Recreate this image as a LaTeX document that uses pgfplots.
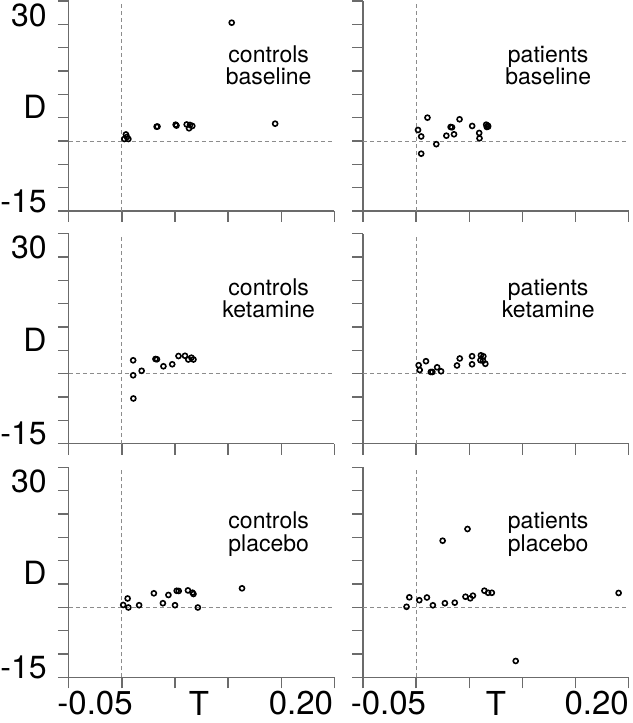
\documentclass[border=0pt]{standalone}
\usepackage{pgfplots}
\pgfplotsset{compat=1.18}
\usepackage{fontspec}
\setmainfont{TeX Gyre Heros}

\definecolor{axisgray}{gray}{0.42}
\definecolor{dashgray}{gray}{0.55}

\newcommand\ylabfont{\fontsize{32}{38}\selectfont}
\newcommand\xlabfont{\fontsize{33}{38}\selectfont}
\newcommand\panellab{\fontsize{23}{27}\selectfont}

\pgfplotsset{
  panel/.style={
    scale only axis, width=265.5pt, height=210pt,
    anchor=south west,
    xmin=-0.05, xmax=0.2, ymin=-15, ymax=30,
    axis lines*=left,
    axis line style={draw=axisgray, line width=1.3pt},
    xtick={-0.05,0,0.05,0.1,0.15,0.2},
    ytick={-15,-10,...,30},
    xticklabels={}, yticklabels={},
    tick align=outside, major tick length=11pt,
    tick style={draw=axisgray, line width=1.3pt},
    clip=false,
  },
  pts/.style={only marks, mark=o, mark size=2.5pt,
    mark options={draw=black, line width=1.6pt}},
  zero/.style={draw=dashgray, line width=0.9pt, dash pattern=on 4pt off 3pt},
}
\tikzset{
  ylab/.style={anchor=east, inner sep=0pt, xshift=-22pt, font=\ylabfont},
  xlab/.style={anchor=north, inner sep=0pt, yshift=-14pt, font=\xlabfont},
  ptxt/.style={anchor=base, inner sep=0pt, font=\panellab},
}

\begin{document}
\begin{tikzpicture}

% row 1: baseline
\begin{axis}[panel, at={(68.8pt,512pt)}]
\addplot[zero] coordinates {(-0.05,0) (0.2,0)};
\addplot[zero] coordinates {(0,-15) (0,30)};
\addplot[pts] coordinates {
(0.0038,1.4) (0.0023,0.43) (0.0061,0.43) (0.0047,0.86)
(0.0327,3.07) (0.0335,3.1) (0.0506,3.5) (0.0514,3.3)
(0.061,3.54) (0.0632,2.72) (0.0663,3.22) (0.0641,3.43)
(0.1034,25.35) (0.1443,3.71)};
\node[ptxt] at (axis cs:0.1382,16.78) {controls};
\node[ptxt] at (axis cs:0.1382,12.0) {baseline};
\node[ylab] at (axis cs:-0.05,27) {30};
\node[ylab] at (axis cs:-0.05,7.3) {D};
\node[ylab] at (axis cs:-0.05,-12.85) {-15};
\end{axis}

\begin{axis}[panel, at={(363pt,512pt)}]
\addplot[zero] coordinates {(-0.05,0) (0.2,0)};
\addplot[zero] coordinates {(0,-15) (0,30)};
\addplot[pts] coordinates {
(0.0018,2.36) (0.0048,0.97) (0.0107,5.0) (0.0048,-2.72)
(0.019,-0.68) (0.0285,1.14) (0.0325,3.0) (0.0338,2.94)
(0.0357,1.44) (0.0409,4.65) (0.0528,3.22) (0.0594,1.72)
(0.0597,0.58) (0.066,3.5) (0.0676,3.28) (0.0666,3.0) (0.0678,3.1)};
\node[ptxt] at (axis cs:0.1244,16.78) {patients};
\node[ptxt] at (axis cs:0.1244,12.0) {baseline};
\end{axis}

% row 2: ketamine
\begin{axis}[panel, at={(68.8pt,279.3pt)}]
\addplot[zero] coordinates {(-0.05,0) (0.2,0)};
\addplot[zero] coordinates {(0,-15) (0,30)};
\addplot[pts] coordinates {
(0.0106,2.87) (0.0106,-0.34) (0.0186,0.62) (0.0108,-5.31)
(0.0316,3.15) (0.033,3.09) (0.0391,1.59) (0.0474,2.02)
(0.0533,3.79) (0.0594,3.84) (0.0625,3.04) (0.0655,3.43) (0.0674,3.04)};
\node[ptxt] at (axis cs:0.1382,16.78) {controls};
\node[ptxt] at (axis cs:0.1382,12.0) {ketamine};
\node[ylab] at (axis cs:-0.05,27) {30};
\node[ylab] at (axis cs:-0.05,7.3) {D};
\node[ylab] at (axis cs:-0.05,-12.85) {-15};
\end{axis}

\begin{axis}[panel, at={(363pt,279.3pt)}]
\addplot[zero] coordinates {(-0.05,0) (0.2,0)};
\addplot[zero] coordinates {(0,-15) (0,30)};
\addplot[pts] coordinates {
(0.0024,1.82) (0.0034,0.79) (0.0093,2.68) (0.0139,0.37)
(0.0153,0.37) (0.0198,1.37) (0.0235,0.52) (0.0385,1.76)
(0.0411,3.26) (0.0527,3.75) (0.0527,2.02) (0.061,3.94)
(0.0633,3.73) (0.0606,2.89) (0.063,2.77) (0.0652,2.12)};
\node[ptxt] at (axis cs:0.1244,16.78) {patients};
\node[ptxt] at (axis cs:0.1244,12.0) {ketamine};
\end{axis}

% row 3: placebo
\begin{axis}[panel, at={(68.8pt,45.7pt)}]
\addplot[zero] coordinates {(-0.05,0) (0.2,0)};
\addplot[zero] coordinates {(0,-15) (0,30)};
\addplot[pts] coordinates {
(0.0012,0.5) (0.0054,1.89) (0.0061,-0.04) (0.0162,0.45)
(0.0301,3.0) (0.0386,0.88) (0.0438,2.64) (0.05,0.45)
(0.0516,3.54) (0.0535,3.5) (0.0622,3.62) (0.0665,3.13)
(0.0674,2.85) (0.0715,-0.04) (0.1131,4.07)};
\node[ptxt] at (axis cs:0.1382,16.78) {controls};
\node[ptxt] at (axis cs:0.1382,12.0) {placebo};
\node[ylab] at (axis cs:-0.05,27) {30};
\node[ylab] at (axis cs:-0.05,7.3) {D};
\node[ylab] at (axis cs:-0.05,-12.85) {-15};
\node[xlab] at (axis cs:-0.0253,-15) {-0.05};
\node[xlab] at (axis cs:0.0726,-15) {T};
\node[xlab] at (axis cs:0.1686,-15) {0.20};
\end{axis}

\begin{axis}[panel, at={(363pt,45.7pt)}]
\addplot[zero] coordinates {(-0.05,0) (0.2,0)};
\addplot[zero] coordinates {(0,-15) (0,30)};
\addplot[pts] coordinates {
(-0.009,0.11) (-0.0064,2.14) (0.003,1.52) (0.0102,2.1)
(0.0158,0.43) (0.0271,0.88) (0.0364,0.99) (0.0465,2.27)
(0.051,1.93) (0.0535,2.49) (0.0643,3.56) (0.0678,3.11)
(0.0713,3.11) (0.025,14.27) (0.0484,16.78) (0.0938,-11.5)
(0.1907,3.07)};
\node[ptxt] at (axis cs:0.1244,16.78) {patients};
\node[ptxt] at (axis cs:0.1244,12.0) {placebo};
\node[xlab] at (axis cs:-0.026,-15) {-0.05};
\node[xlab] at (axis cs:0.0752,-15) {T};
\node[xlab] at (axis cs:0.17,-15) {0.20};
\end{axis}

\pgfresetboundingbox
\useasboundingbox (0pt,0pt) rectangle (632pt,723pt);
\end{tikzpicture}
\end{document}
